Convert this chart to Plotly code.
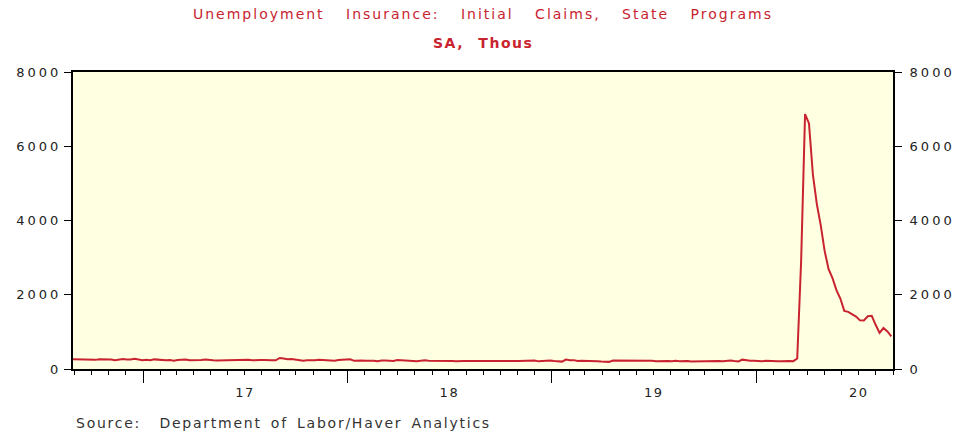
import pandas as pd
import plotly.graph_objects as go

# Weekly initial claims, state programs (SA, thousands), weeks ending Saturday
first_week = "2016-08-27"
claims_2016 = [263, 259, 260, 252, 254, 249, 246, 260, 258, 265, 254, 235, 251, 268,
               258, 254, 275, 265, 235]
claims_2017 = [247, 234, 259, 246, 234, 239, 244, 223, 243, 241, 258, 234, 234, 234,
               244, 257, 238, 236, 232, 234, 248, 245, 237, 241, 244, 248, 247, 233,
               244, 240, 244, 232, 234, 236, 298, 284, 260, 272, 258, 243, 222, 233,
               229, 239, 249, 239, 238, 236, 225, 245, 245, 250]
claims_2018 = [261, 220, 233, 230, 221, 230, 222, 210, 231, 226, 229, 215, 242, 233,
               232, 209, 211, 211, 222, 234, 221, 222, 218, 227, 228, 232, 214, 207,
               217, 218, 213, 212, 210, 213, 203, 204, 201, 214, 207, 214, 210, 215,
               214, 214, 216, 224, 234, 231, 206, 214, 216, 231]
claims_2019 = [216, 213, 199, 253, 234, 239, 216, 225, 223, 229, 221, 211, 202, 196,
               192, 230, 230, 228, 212, 211, 218, 218, 222, 216, 227, 221, 209, 216,
               206, 215, 209, 220, 209, 215, 217, 204, 208, 213, 219, 210, 214, 212,
               217, 211, 225, 227, 213, 203, 252, 234, 222, 220]
claims_2020 = [212, 207, 222, 215, 202, 206, 211, 219, 217, 211, 282, 2914, 6867, 6615,
               5237, 4442, 3867, 3176, 2687, 2446, 2123, 1897, 1566, 1540, 1482, 1413,
               1310, 1307, 1422, 1435, 1191, 971, 1104, 1011, 881]

claims = claims_2016 + claims_2017 + claims_2018 + claims_2019 + claims_2020
weeks = pd.date_range(first_week, periods=len(claims), freq="W-SAT")

x_range = ["2016-08-29", "2020-09-01"]
years = [2017, 2018, 2019, 2020]
year_labels = ["17", "18", "19", "20"]
y_ticks = [0, 2000, 4000, 6000, 8000]
y_labels = ["0", "2000", "4000", "6000", "8000"]

title_text = "Unemployment Insurance: Initial Claims, State Programs"
subtitle_text = "SA, Thous"
source_text = "Source:&nbsp; Department of Labor/Haver Analytics"

RED = "#c8232f"
FONT = "DejaVu Sans, Verdana, sans-serif"
INK = "#222222"


def spaced(text, letter, word=0):
    return (f'<span style="letter-spacing:{letter}px;word-spacing:{word}px">'
            f'{text}</span>')


year_starts = [f"{y}-01-01" for y in years]
year_mids = [f"{y}-07-02" for y in years]

fig = go.Figure()
fig.add_trace(go.Scatter(
    x=weeks, y=claims, mode="lines",
    line=dict(color=RED, width=2),
    hoverinfo="skip", showlegend=False,
))
# companion trace that carries the right-hand axis and the year label axis
fig.add_trace(go.Scatter(
    x=weeks, y=claims, mode="lines", xaxis="x2", yaxis="y2",
    line=dict(color=RED, width=2), opacity=0,
    hoverinfo="skip", showlegend=False,
))

axis_font = dict(family=FONT, size=13, color=INK)

fig.update_layout(
    width=955, height=434,
    margin=dict(l=73, r=62, t=72, b=65, autoexpand=False),
    paper_bgcolor="white",
    plot_bgcolor="#ffffe2",
    font=dict(family=FONT, color=INK),
    xaxis=dict(
        type="date", range=x_range,
        tickmode="array", tickvals=year_starts,
        ticks="outside", ticklen=12, tickwidth=1, tickcolor="black",
        showticklabels=False,
        minor=dict(ticks="outside", ticklen=4, tickwidth=1, tickcolor="black",
                   dtick="M1", tick0="2016-09-01", showgrid=False),
        showline=True, linecolor="black", linewidth=2, mirror=True,
        showgrid=False, zeroline=False,
    ),
    xaxis2=dict(
        type="date", range=x_range, overlaying="x", anchor="y", side="bottom",
        tickmode="array", tickvals=year_mids,
        ticktext=[spaced(t, 1.5) for t in year_labels],
        ticks="outside", ticklen=11, tickcolor="rgba(0,0,0,0)",
        tickfont=axis_font, showline=False, showgrid=False, zeroline=False,
    ),
    yaxis=dict(
        range=[0, 8000], tickmode="array", tickvals=y_ticks,
        ticktext=[spaced(t, 3) for t in y_labels],
        ticks="outside", ticklen=7, tickwidth=1, tickcolor="black",
        tickfont=axis_font,
        showline=True, linecolor="black", linewidth=2,
        showgrid=False, zeroline=False,
    ),
    yaxis2=dict(
        range=[0, 8000], overlaying="y", side="right", anchor="x",
        tickmode="array", tickvals=y_ticks,
        ticktext=[spaced(t, 3) for t in y_labels],
        ticks="outside", ticklen=7, tickwidth=1, tickcolor="black",
        tickfont=axis_font, ticklabelstandoff=5,
        showline=True, linecolor="black", linewidth=2,
        showgrid=False, zeroline=False,
    ),
    annotations=[
        dict(text=spaced(title_text, 2, 15), xref="paper", yref="paper",
             x=0.5, y=1 + 58 / 297, xanchor="center", yanchor="middle",
             showarrow=False, font=dict(family=FONT, size=14, color=RED)),
        dict(text="<b>" + spaced(subtitle_text, 1.5, 8) + "</b>",
             xref="paper", yref="paper",
             x=0.5, y=1 + 29 / 297, xanchor="center", yanchor="middle",
             showarrow=False, font=dict(family=FONT, size=14, color=RED)),
        dict(text=spaced(source_text, 1.75, 3), xref="paper", yref="paper",
             x=1 / 820, y=-54 / 297, xanchor="left", yanchor="middle",
             showarrow=False, font=dict(family=FONT, size=14, color="#333333")),
    ],
)

fig.write_html("out.html")
